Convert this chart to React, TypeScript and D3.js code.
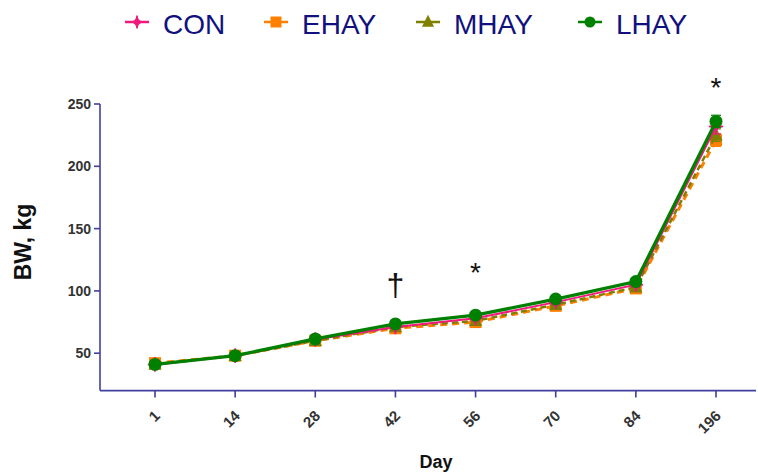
import React from "react";
import * as d3 from "d3";

const days = ["1", "14", "28", "42", "56", "70", "84", "196"];
const yTicks = [50, 100, 150, 200, 250];
const seriesNames = ["CON", "EHAY", "MHAY", "LHAY"];
const conValues = [41, 48, 61, 71, 78, 91, 105, 232];
const ehayValues = [42, 48, 60, 70, 75, 88, 102, 221];
const mhayValues = [41, 48, 60, 71, 76, 89, 103, 225];
const lhayValues = [41, 48, 61.5, 73.5, 80.5, 93.5, 107.5, 236];
const conSE = [1, 1, 1.5, 1.5, 2, 2, 2, 6];
const ehaySE = [1, 1, 1.5, 1.5, 2, 2, 2, 5];
const mhaySE = [1, 1, 1.5, 1.5, 2, 2, 2, 5];
const lhaySE = [1, 1, 1.5, 1.5, 2, 2, 2, 5];
const annotations = [
  { day: "42", text: "†" },
  { day: "56", text: "*" },
  { day: "196", text: "*" },
];

const W = 758;
const H = 472;

type Style = { color: string; dash: string; width: number; marker: string };
const styles: Record<string, Style> = {
  CON: { color: "#F0197D", dash: "", width: 2, marker: "diamond" },
  EHAY: { color: "#FF8000", dash: "7,5", width: 3, marker: "square" },
  MHAY: { color: "#808000", dash: "6,4", width: 2.5, marker: "triangle" },
  LHAY: { color: "#008000", dash: "", width: 3.3, marker: "circle" },
};

function Marker({ type, x, y, color, size }: { type: string; x: number; y: number; color: string; size: number }) {
  if (type === "circle") return <circle cx={x} cy={y} r={size * 0.5} fill={color} />;
  if (type === "square")
    return <rect x={x - size / 2} y={y - size / 2} width={size} height={size} fill={color} />;
  if (type === "triangle") {
    const s = size * 1.1;
    return <path d={`M${x},${y - s * 0.6}L${x + s / 2},${y + s * 0.4}L${x - s / 2},${y + s * 0.4}Z`} fill={color} />;
  }
  const s = size * 0.6;
  return (
    <path
      d={`M${x},${y - s}Q${x},${y} ${x + s},${y}Q${x},${y} ${x},${y + s}Q${x},${y} ${x - s},${y}Q${x},${y} ${x},${y - s}Z`}
      fill={color}
      stroke={color}
      strokeWidth={1.5}
    />
  );
}

export default function App() {
  const x = d3.scalePoint<string>().domain(days).range([155, 716]);
  const y = d3.scaleLinear().domain([20, 250]).range([390.6, 104]);
  const data: Record<string, number[]> = { CON: conValues, EHAY: ehayValues, MHAY: mhayValues, LHAY: lhayValues };
  const se: Record<string, number[]> = { CON: conSE, EHAY: ehaySE, MHAY: mhaySE, LHAY: lhaySE };
  const drawOrder = ["EHAY", "MHAY", "CON", "LHAY"];
  const line = d3
    .line<number>()
    .x((_, i) => x(days[i]) as number)
    .y((d) => y(d));
  const axisColor = "#3F3F9F";
  const font = "Arial, 'Liberation Sans', sans-serif";
  const legendX = [137, 276, 428, 590];

  return (
    <svg width={W} height={H} style={{ position: "absolute", left: 0, top: 0, background: "#fff" }} fontFamily={font}>
      {/* legend */}
      {seriesNames.map((name, i) => {
        const st = styles[name];
        return (
          <g key={name}>
            <line x1={legendX[i] - 12} x2={legendX[i] + 12} y1={22} y2={22} stroke={st.color} strokeWidth={2.5} />
            <Marker type={st.marker} x={legendX[i]} y={22} color={st.color} size={11} />
            <text x={legendX[i] + 26} y={34} fontSize={28} fill="#10107E">
              {name}
            </text>
          </g>
        );
      })}

      {/* axes */}
      <line x1={100} x2={100} y1={104} y2={390.6} stroke={axisColor} strokeWidth={1.6} />
      <line x1={100} x2={756} y1={390.6} y2={390.6} stroke={axisColor} strokeWidth={1.6} />
      {yTicks.map((t) => (
        <g key={t}>
          <line x1={94} x2={100} y1={y(t)} y2={y(t)} stroke={axisColor} strokeWidth={1.6} />
          <text x={91} y={y(t) + 5} textAnchor="end" fontSize={14} fontWeight="bold" fill="#333">
            {t}
          </text>
        </g>
      ))}
      {days.map((d) => {
        const px = x(d) as number;
        return (
          <g key={d}>
            <line x1={px} x2={px} y1={390.6} y2={397.5} stroke={axisColor} strokeWidth={1.6} />
            <text
              transform={`translate(${px + 3},${414}) rotate(-45)`}
              textAnchor="end"
              dominantBaseline="middle"
              fontSize={15}
              fontWeight="bold"
              fill="#333"
            >
              {d}
            </text>
          </g>
        );
      })}
      <text x={436} y={468} textAnchor="middle" fontSize={18} fontWeight="bold" fill="#111">
        Day
      </text>
      <text transform="translate(31,242) rotate(-90)" textAnchor="middle" fontSize={23} fontWeight="bold" fill="#111">
        BW, kg
      </text>

      {/* series */}
      {drawOrder.map((name) => {
        const st = styles[name];
        const vals = data[name];
        return (
          <g key={name}>
            {vals.map((v, i) => {
              const px = x(days[i]) as number;
              const e = se[name][i];
              return (
                <g key={i} stroke={st.color} strokeWidth={1.2}>
                  <line x1={px} x2={px} y1={y(v + e)} y2={y(v - e)} />
                  <line x1={px - 5} x2={px + 5} y1={y(v + e)} y2={y(v + e)} />
                  <line x1={px - 5} x2={px + 5} y1={y(v - e)} y2={y(v - e)} />
                </g>
              );
            })}
            <path d={line(vals) || ""} fill="none" stroke={st.color} strokeWidth={st.width} strokeDasharray={st.dash} />
            {vals.map((v, i) => (
              <Marker
                key={i}
                type={st.marker}
                x={x(days[i]) as number}
                y={y(v)}
                color={st.color}
                size={name === "LHAY" ? 13 : 12}
              />
            ))}
          </g>
        );
      })}

      {/* annotations */}
      {annotations.map((a) => {
        const px = x(a.day) as number;
        if (a.text === "†")
          return (
            <text key={a.day} x={px} y={296} textAnchor="middle" fontSize={32} fill="#111">
              †
            </text>
          );
        return (
          <text key={a.day} x={px} y={a.day === "196" ? 97 : 282} textAnchor="middle" fontSize={28} fill="#111">
            *
          </text>
        );
      })}
    </svg>
  );
}
